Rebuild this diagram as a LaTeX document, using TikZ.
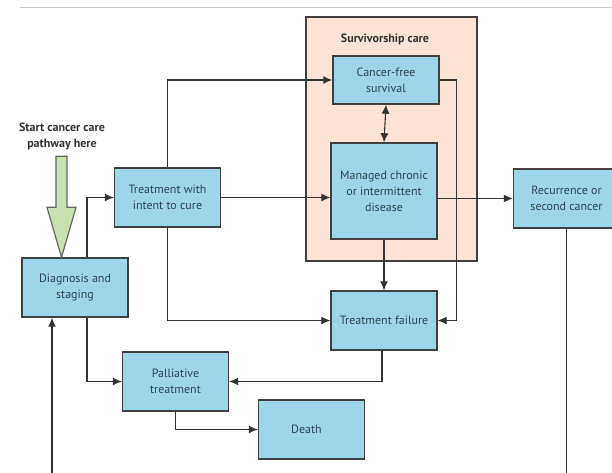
\documentclass[tikz,border=0pt]{standalone}
\usepackage{fontspec}
\setmainfont{PT Sans}
\usepackage{tikz}
\usetikzlibrary{positioning, arrows.meta, calc}
\definecolor{boxblue}{HTML}{9DD6E9}
\definecolor{survpeach}{HTML}{FCE3D7}
\definecolor{startgreen}{HTML}{C9E1B1}
\definecolor{boxtext}{HTML}{2A4655}

\begin{document}
\begin{tikzpicture}[x=1pt, y=-1pt,
    >={Latex[length=9pt, width=8pt]}, % gefuellte Pfeilspitzen
    line width=1.1pt, draw=black!80,
    stage/.style={draw=black!75, line width=1.4pt, rectangle, fill=boxblue, minimum width=106pt, minimum height=59pt,
        align=center, text=boxtext, font=\fontsize{12}{16}\selectfont, inner sep=2pt},
    label/.style={align=center, text=black!80, font=\fontsize{12}{16}\selectfont\bfseries}
]
\useasboundingbox (0,0) rectangle (612,473);
\clip (0,0) rectangle (612,473);

% 1. Trennlinie oben
\draw[black!20, line width=1pt] (20,8) -- (612,8);

% 2. Survivorship care (Hintergrund)
\draw[fill=survpeach, draw=black!75, line width=1.4pt] (306,17) rectangle (477,261);
\node[label] (surv) at (385,39) {Survivorship care};

% 3. Die Bloecke setzen
\node[stage, minimum height=48pt] (cfs) at (386,80) {Cancer-free\\survival};
\node[stage, minimum height=96pt] (mcd) at (384,191) {Managed chronic\\or intermittent\\disease};
\node[stage] (rec) at (566.5,198.5) {Recurrence or\\second cancer};
\node[stage] (twc) at (167.5,197.5) {Treatment with\\intent to cure};
\node[stage] (dia) at (75,287.5) {Diagnosis and\\staging};
\node[stage] (tfl) at (384,320.5) {Treatment failure};
\node[stage] (pal) at (175.5,381.5) {Palliative\\treatment};
\node[stage] (dth) at (311.5,429.5) {\hspace*{-10pt}Death};

% 4. Startpfeil
\node[label] (start) at (62,136) {Start cancer care\\pathway here};
\coordinate (tip) at ([xshift=-13.5pt]dia.north);
\draw[fill=startgreen, draw=black!60, line width=1.2pt] (tip) -- ++(-14.5,-50) -- ++(9,0) -- ++(0,-51)
    -- ++(11,0) -- ++(0,51) -- ++(9,0) -- cycle;

% 5. Verbindungen
\draw[->] ([xshift=12pt]dia.north) |- (twc.west);
\draw[->] (twc.north) |- (cfs.west);
\draw[->] (twc.east) -- (twc.east -| mcd.west);
\draw[->] (twc.south) |- (tfl.west);
\draw[<->] (cfs.south) -- (mcd.north);
\draw[->] (cfs.east) -- ++(17,0) |- (tfl.east);
\draw[->] (mcd.east |- rec.west) -- (rec.west);
\draw[->] (mcd.south) -- (tfl.north);
\draw[->] ([xshift=-2pt]tfl.south) |- (pal.east);
\draw[->] ([xshift=12pt]dia.south) |- (pal.west);
\draw[->] (pal.south) |- (dth.west);

% 6. Rueckfuehrung (unten abgeschnitten)
\coordinate (rec_out) at (rec.south |- 0,473);
\coordinate (dia_in) at ([xshift=-23pt]dia.south |- 0,473);
\draw (rec.south) -- (rec_out);
\draw[->] (dia_in) -- ([xshift=-23pt]dia.south);

\end{tikzpicture}
\end{document}
